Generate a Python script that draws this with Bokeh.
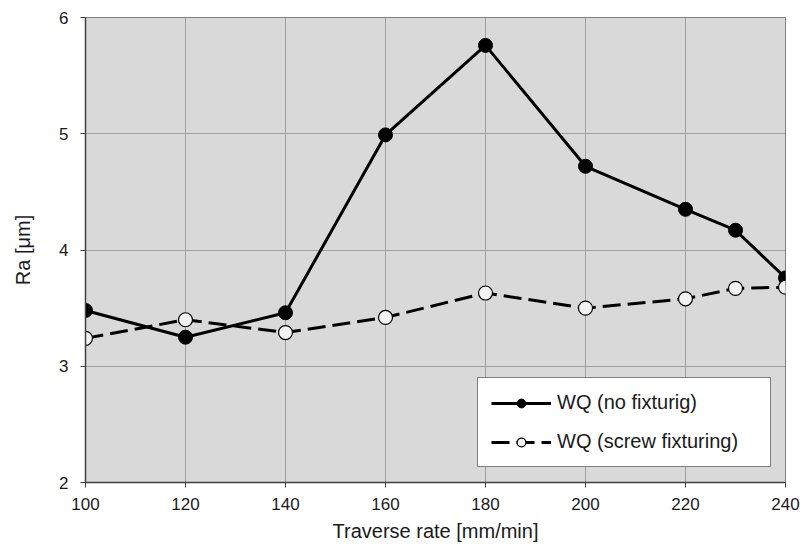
from bokeh.plotting import figure
from bokeh.models import Legend, LegendItem, Range1d, FixedTicker
from bokeh.embed import file_html
from bokeh.resources import INLINE

traverse_rate = [100, 120, 140, 160, 180, 200, 220, 230, 240]
ra_no_fixturing = [3.48, 3.25, 3.46, 4.99, 5.76, 4.72, 4.35, 4.17, 3.76]
ra_screw_fixturing = [3.24, 3.40, 3.29, 3.42, 3.63, 3.50, 3.58, 3.67, 3.68]
x_ticks = [100, 120, 140, 160, 180, 200, 220, 240]
y_ticks = [2, 3, 4, 5, 6]

FONT = "Liberation Sans"

p = figure(width=803, height=546, output_backend="svg", toolbar_location=None,
           x_range=Range1d(100, 240), y_range=Range1d(2, 6))
p.min_border_left = 85
p.min_border_right = 18
p.min_border_top = 17
p.min_border_bottom = 64
p.background_fill_color = "#d9d9d9"
p.border_fill_color = "white"
p.outline_line_color = "#7f7f7f"
p.outline_line_width = 1

p.xgrid.ticker = FixedTicker(ticks=x_ticks)
p.ygrid.ticker = FixedTicker(ticks=y_ticks)
for g in (p.xgrid, p.ygrid):
    g.grid_line_color = "#a0a0a0"
    g.grid_line_width = 1

for ax, ticks in ((p.xaxis, x_ticks), (p.yaxis, y_ticks)):
    ax.ticker = FixedTicker(ticks=ticks)
    ax.axis_line_color = "#404040"
    ax.axis_line_width = 1.5
    ax.major_tick_line_color = "#404040"
    ax.major_tick_out = 5
    ax.major_tick_in = 0
    ax.minor_tick_line_color = None
    ax.major_label_text_font = FONT
    ax.major_label_text_font_size = "17px"
    ax.major_label_text_color = "#1a1a1a"
    ax.axis_label_text_font = FONT
    ax.axis_label_text_font_size = "20px"
    ax.axis_label_text_font_style = "normal"
    ax.axis_label_text_color = "#1a1a1a"

p.xaxis.axis_label = "Traverse rate [mm/min]"
p.yaxis.axis_label = "Ra [\u03bcm]"
p.xaxis.major_label_standoff = 10
p.xaxis.axis_label_standoff = 7
p.yaxis.major_label_standoff = 12
p.yaxis.axis_label_standoff = 22

l1 = p.line(traverse_rate, ra_no_fixturing, line_color="black", line_width=3)
s1 = p.scatter(traverse_rate, ra_no_fixturing, size=14, fill_color="black",
               line_color="black", line_width=1)
l2 = p.line(traverse_rate, ra_screw_fixturing, line_color="black", line_width=3,
            line_dash="18 7")
s2 = p.scatter(traverse_rate, ra_screw_fixturing, size=14, fill_color="#f2f2f2",
               line_color="black", line_width=1.2)

legend = Legend(items=[
    LegendItem(label="WQ (no fixturig)", renderers=[l1, s1]),
    LegendItem(label="WQ (screw fixturing)", renderers=[l2, s2]),
], location=(392, 15))
legend.label_text_font = FONT
legend.label_text_font_size = "20px"
legend.label_text_color = "#1a1a1a"
legend.glyph_width = 60
legend.glyph_height = 22
legend.label_height = 22
legend.label_width = 200
legend.label_standoff = 6
legend.padding = 13
legend.spacing = 16
legend.margin = 0
legend.border_line_color = "black"
legend.border_line_width = 1.5
legend.background_fill_color = "white"
legend.background_fill_alpha = 1
p.add_layout(legend, "center")

open("out.html", "w").write(file_html(p, INLINE))
